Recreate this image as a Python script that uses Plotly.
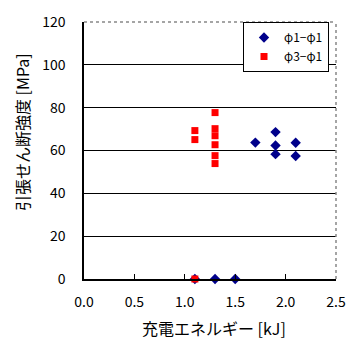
import plotly.graph_objects as go

# φ1-φ1 series
s1_x = [1.1, 1.3, 1.5, 1.7, 1.9, 1.9, 1.9, 2.1, 2.1]
s1_y = [0, 0, 0, 63.7, 68.6, 62.3, 58.3, 63.6, 57.4]
# φ3-φ1 series
s2_x = [1.1, 1.1, 1.1, 1.3, 1.3, 1.3, 1.3, 1.3, 1.3]
s2_y = [0, 69.3, 65.1, 77.7, 70.2, 66.9, 62.7, 57.6, 53.9]

x_ticks = [0, 0.5, 1.0, 1.5, 2.0, 2.5]
x_labels = ["0.0", "0.5", "1.0", "1.5", "2.0", "2.5"]
y_ticks = [0, 20, 40, 60, 80, 100, 120]

FONT = "Noto Sans CJK JP"

fig = go.Figure()
fig.add_trace(go.Scatter(x=s1_x, y=s1_y, mode="markers", name="φ1−φ1",
                         marker=dict(symbol="diamond", size=8, color="#00008B"),
                         cliponaxis=False))
fig.add_trace(go.Scatter(x=s2_x, y=s2_y, mode="markers", name="φ3−φ1",
                         marker=dict(symbol="square", size=7, color="#FF0000"),
                         cliponaxis=False))

fig.update_layout(
    width=359, height=358,
    margin=dict(l=84, r=23, t=22, b=79),
    paper_bgcolor="white", plot_bgcolor="white",
    font=dict(family=FONT, size=14, color="black"),
    showlegend=True,
    legend=dict(x=0.631, y=1.0, xanchor="left", yanchor="top",
                bordercolor="black", borderwidth=1, bgcolor="white",
                font=dict(size=12), itemwidth=30, tracegroupgap=0),
    xaxis=dict(range=[0, 2.5], tickvals=x_ticks, ticktext=x_labels,
               showgrid=False, zeroline=False, showline=True,
               linecolor="black", linewidth=1.5, ticks="inside", ticklen=5,
               tickcolor="black", ticklabelstandoff=9),
    yaxis=dict(range=[0, 120], tickvals=y_ticks, showgrid=True,
               gridcolor="black", gridwidth=1, zeroline=False, showline=True,
               linecolor="black", linewidth=1.5, ticks="",
               ticklabelstandoff=14),
    shapes=[
        dict(type="line", xref="paper", yref="paper", x0=0, x1=1, y0=1, y1=1,
             line=dict(color="#888888", width=1.5, dash="dot")),
        dict(type="line", xref="paper", yref="paper", x0=1, x1=1, y0=0, y1=1,
             line=dict(color="#888888", width=1.5, dash="dot")),
    ],
    annotations=[
        dict(text="充電エネルギー [kJ]", xref="paper", yref="paper",
             x=0.516, y=-0.19, xanchor="center", yanchor="middle",
             showarrow=False, font=dict(size=16)),
        dict(text="引張せん断強度 [MPa]", xref="paper", yref="paper",
             x=-0.246, y=0.572, xanchor="center", yanchor="middle",
             textangle=-90, showarrow=False, font=dict(size=16)),
    ],
)

fig.write_html(
    "out.html",
    config={"displayModeBar": False},
    post_script="document.body.style.margin='0';document.body.style.overflow='hidden';",
)
